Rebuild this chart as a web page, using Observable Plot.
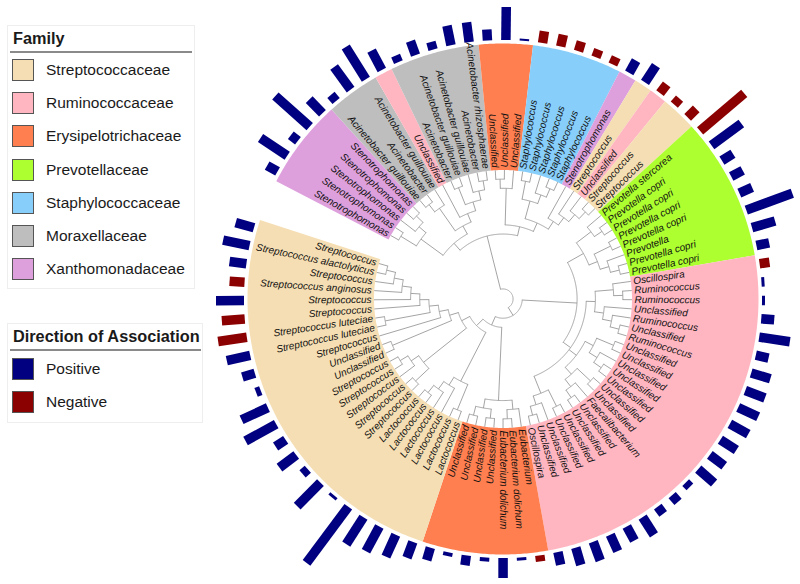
<!DOCTYPE html>
<html><head><meta charset="utf-8">
<script src="https://cdn.jsdelivr.net/npm/d3@7"></script>
<script src="https://cdn.jsdelivr.net/npm/@observablehq/plot@0.6"></script>
<style>
body{margin:0;background:#fff;font-family:"Liberation Sans",Arial,sans-serif;color:#1a1a1a;}
#wrap{position:relative;width:800px;height:584px;overflow:hidden;}
#wrap svg{position:absolute;left:0;top:0;}
.box{position:absolute;border:1px solid #eeeeee;background:#fff;box-sizing:border-box;}
.ttl{position:absolute;font-weight:bold;font-size:16.3px;line-height:18px;white-space:nowrap;}
.rule{position:absolute;height:2px;background:#8a8a8a;}
.sw{position:absolute;width:22px;height:22px;box-sizing:border-box;border:1px solid #555;}
.lab{position:absolute;font-size:15.5px;line-height:18px;white-space:nowrap;}
</style></head><body><div id="wrap"></div>
<script>
// ---------------- data ----------------
const leafNames = [
 "Stenotrophomonas","Stenotrophomonas","Stenotrophomonas","Stenotrophomonas","Stenotrophomonas",
 "Acinetobacter guillouiae","Acinetobacter","Acinetobacter guillouiae","Unclassified",
 "Acinetobacter","Acinetobacter guillouiae","Acinetobacter guillouiae","Acinetobacter","Acinetobacter rhizosphaerae",
 "Unclassified","Unclassified","Unclassified",
 "Staphylococcus","Staphylococcus","Staphylococcus","Staphylococcus","Staphylococcus",
 "Stenotrophomonas","Streptococcus","Unclassified","Streptococcus","Streptococcus",
 "Prevotella stercorea","Prevotella copri","Prevotella copri","Prevotella copri","Prevotella copri","Prevotella","Prevotella copri","Prevotella copri",
 "Oscillospira","Ruminococcus","Ruminococcus","Unclassified","Ruminococcus","Unclassified","Ruminococcus",
 "Unclassified","Unclassified","Unclassified","Unclassified","Unclassified","Unclassified","Unclassified",
 "Faecalibacterium",
 "Unclassified","Unclassified","Unclassified","Unclassified","Unclassified","Unclassified",
 "Oscillospira",
 "Eubacterium","Eubacterium dolichum","Eubacterium dolichum","Unclassified","Unclassified","Unclassified","Unclassified",
 "Lactococcus","Lactococcus","Lactococcus","Lactococcus","Lactococcus","Lactococcus",
 "Streptococcus","Streptococcus","Streptococcus","Streptococcus","Streptococcus",
 "Unclassified","Unclassified","Streptococcus","Streptococcus luteciae","Streptococcus luteciae",
 "Streptococcus","Streptococcus","Streptococcus anginosus","Streptococcus","Streptococcus alactolyticus","Streptococcus"
];
const familyNames = ["Streptococcaceae","Ruminococcaceae","Erysipelotrichaceae","Prevotellaceae","Staphylococcaceae","Moraxellaceae","Xanthomonadaceae"];
const familyColors = ["#F5DEB3","#FFB6C1","#FF7F50","#ADFF2F","#87CEFA","#BEBEBE","#DDA0DD"];
const leafFamily = [
 "Xanthomonadaceae","Xanthomonadaceae","Xanthomonadaceae","Xanthomonadaceae","Xanthomonadaceae",
 "Moraxellaceae","Moraxellaceae","Moraxellaceae","Ruminococcaceae",
 "Moraxellaceae","Moraxellaceae","Moraxellaceae","Moraxellaceae","Moraxellaceae",
 "Erysipelotrichaceae","Erysipelotrichaceae","Erysipelotrichaceae",
 "Staphylococcaceae","Staphylococcaceae","Staphylococcaceae","Staphylococcaceae","Staphylococcaceae",
 "Xanthomonadaceae","Streptococcaceae","Ruminococcaceae","Streptococcaceae","Streptococcaceae",
 "Prevotellaceae","Prevotellaceae","Prevotellaceae","Prevotellaceae","Prevotellaceae","Prevotellaceae","Prevotellaceae","Prevotellaceae",
 ...Array(22).fill("Ruminococcaceae"),
 ...Array(7).fill("Erysipelotrichaceae"),
 ...Array(22).fill("Streptococcaceae")
];
// signed association strength (positive / negative)
const assocValue = [
 1.2,3.2,0.9,4.6,1.9, 0.8,2.8,3.8,2.2, 0.7,1.5,0.8,2.0,2.0,
 1.1,3.3,0.2, -1.2,-1.2,-1.0,-0.8,-0.8,
 1.4,2.0,-1.1,-0.8,-1.2,
 -5.8,3.7,1.3,1.3,1.4,4.9,2.4,1.3,
 -1.0,0.3,0.3,1.3,3.1,1.3,2.0,
 2.1,2.2,2.1,1.9,1.8,2.1,0.6,
 0.9,
 0.9,2.1,1.6,1.8,2.0,1.8,
 1.3,
 -0.6,0.3,2.0,0.4,1.0,0.4,1.3,
 1.7,2.4,2.8,3.2,7.0,0.3,
 3.3,0.7,2.1,1.2,3.5,
 2.9,0.5,1.3,2.4,-2.9,
 -2.3,2.8,-1.5,1.7,2.7,1.9
];
const directionNames = ["Positive","Negative"];
const directionColors = ["#000080","#8B0000"];
// tree topology (leaf indices, nested clades)
const cladeXan = [[0,1],[2,[3,4]]];
const cladeMor = [[[5,6],7],[8,[[9,10],[11,[12,13]]]]];
const cladeEry1 = [[14,15],16];
const cladeSta = [[17,18],[19,[20,21]]];
const cladeMix = [22,[23,[24,[25,26]]]];
const cladePre = [[27,[28,29]],[[30,31],[32,[33,34]]]];
const cladeRum = [[[35,[36,37]],[38,[39,[40,41]]]],[[[42,43],[44,[45,46]]],[[47,48],[49,[50,51]]]],[[52,53],[54,[55,56]]]];
const cladeEry2 = [[57,[58,59]],[[60,61],[62,63]]];
const cladeLac = [[64,65],[66,[67,[68,69]]]];
const cladeStr = [[[70,71],[72,[73,74]]],[[75,76],[77,[[78,79],[80,[81,[82,[83,[84,85]]]]]]]]];
const treeTopology = [[[cladeXan,cladeMor],[cladeEry1,[cladeSta,cladeMix]]],[[cladePre,cladeRum],[cladeEry2,[cladeLac,cladeStr]]]];

// ---------------- layout ----------------
const W = 800, Hh = 584, CX = 502.5, CY = 298.5;
const startAngle = 299.5, step = 4.076;
const rTip = 129, rOut = 255.5, rLab = 131.5, rBar = 259;
const barLen = d3.scaleLinear().domain([0, 1]).range([0, 10]);
const ang = i => startAngle + i * step;
const rad = a => a * Math.PI / 180;
const px = (r, a) => r * Math.sin(rad(a));
const py = (r, a) => -r * Math.cos(rad(a));
const famColor = new Map(familyNames.map((f, k) => [f, familyColors[k]]));

const rows = leafNames.map((name, i) => ({name, i, family: leafFamily[i], value: assocValue[i], a: ang(i)}));

// sector wedges
const runs = [];
rows.forEach(d => {
  const last = runs[runs.length - 1];
  if (last && last.family === d.family) last.i1 = d.i; else runs.push({family: d.family, i0: d.i, i1: d.i});
});
const sectorPts = [];
runs.forEach((run, k) => {
  const a0 = ang(run.i0) - step / 2, a1 = ang(run.i1) + step / 2;
  const n = Math.max(2, Math.ceil((a1 - a0) / 0.5));
  const as = d3.range(n + 1).map(j => a0 + (a1 - a0) * j / n);
  const fill = famColor.get(run.family);
  as.forEach(a => sectorPts.push({k, fill, x: px(rOut, a), y: py(rOut, a)}));
  as.slice().reverse().forEach(a => sectorPts.push({k, fill, x: px(rTip, a), y: py(rTip, a)}));
});

// tree
const root = d3.hierarchy(treeTopology, d => Array.isArray(d) ? d : null);
const TH = root.height;
root.eachAfter(n => {
  if (!n.children) { n.a = ang(n.data); n.r = rTip; }
  else { n.a = d3.mean(n.children, c => c.a); n.r = rTip * (1 - n.height / (TH + 1.1)); }
});
const radials = root.descendants().filter(n => n.parent).map(n => ({
  x1: px(n.parent.r, n.a), y1: py(n.parent.r, n.a), x2: px(n.r, n.a), y2: py(n.r, n.a)
}));
const arcPts = [];
root.descendants().filter(n => n.children).forEach((n, id) => {
  const a0 = d3.min(n.children, c => c.a), a1 = d3.max(n.children, c => c.a);
  const m = Math.max(2, Math.ceil((a1 - a0) / 0.5));
  d3.range(m + 1).forEach(j => { const a = a0 + (a1 - a0) * j / m; arcPts.push({id, x: px(n.r, a), y: py(n.r, a)}); });
});

const flip = d => { const m = ((d.a % 360) + 360) % 360; return m > 180; };
const textOpts = {text: "name", fontSize: 10, fontStyle: "italic", fontFamily: "Liberation Sans, Arial, sans-serif", fill: "#111"};

const chart = Plot.plot({
  width: W, height: Hh, margin: 0,
  x: {domain: [-CX, W - CX], range: [0, W], axis: null},
  y: {domain: [-CY, Hh - CY], range: [0, Hh], axis: null},
  color: {type: "identity"},
  marks: [
    Plot.line(sectorPts, {x: "x", y: "y", z: "k", fill: "fill", stroke: "none"}),
    Plot.line(arcPts, {x: "x", y: "y", z: "id", stroke: "#9a9a9a", strokeWidth: 0.9}),
    Plot.link(radials, {x1: "x1", y1: "y1", x2: "x2", y2: "y2", stroke: "#9a9a9a", strokeWidth: 0.9}),
    Plot.link(rows, {
      x1: d => px(rBar, d.a), y1: d => py(rBar, d.a),
      x2: d => px(rBar + barLen(Math.abs(d.value)), d.a), y2: d => py(rBar + barLen(Math.abs(d.value)), d.a),
      stroke: d => d.value >= 0 ? directionColors[0] : directionColors[1],
      strokeWidth: 9.5, strokeLinecap: "butt"
    }),
    Plot.text(rows.filter(d => !flip(d)), {...textOpts, x: d => px(rLab, d.a), y: d => py(rLab, d.a), rotate: d => d.a - 90, textAnchor: "start"}),
    Plot.text(rows.filter(flip), {...textOpts, x: d => px(rLab, d.a), y: d => py(rLab, d.a), rotate: d => d.a + 90, textAnchor: "end"})
  ]
});
const wrap = document.getElementById("wrap");
wrap.appendChild(chart);

// ---------------- legends ----------------
function el(cls, style, text) {
  const e = document.createElement("div");
  e.className = cls; Object.assign(e.style, style);
  if (text) e.textContent = text;
  wrap.appendChild(e); return e;
}
el("box", {left: "7px", top: "25px", width: "188px", height: "264px"});
el("ttl", {left: "13px", top: "29px"}, "Family");
el("rule", {left: "10px", top: "51px", width: "182px"});
familyNames.forEach((f, k) => {
  const top = 59 + 33.2 * k;
  el("sw", {left: "12px", top: top + "px", background: familyColors[k]});
  el("lab", {left: "46px", top: (top + 2) + "px"}, f);
});
el("box", {left: "7px", top: "323px", width: "196px", height: "100px"});
el("ttl", {left: "13px", top: "327px"}, "Direction of Association");
el("rule", {left: "10px", top: "349px", width: "191px"});
directionNames.forEach((f, k) => {
  const top = 358 + 33.2 * k;
  el("sw", {left: "12px", top: top + "px", background: directionColors[k]});
  el("lab", {left: "46px", top: (top + 2) + "px"}, f);
});
</script></body></html>
